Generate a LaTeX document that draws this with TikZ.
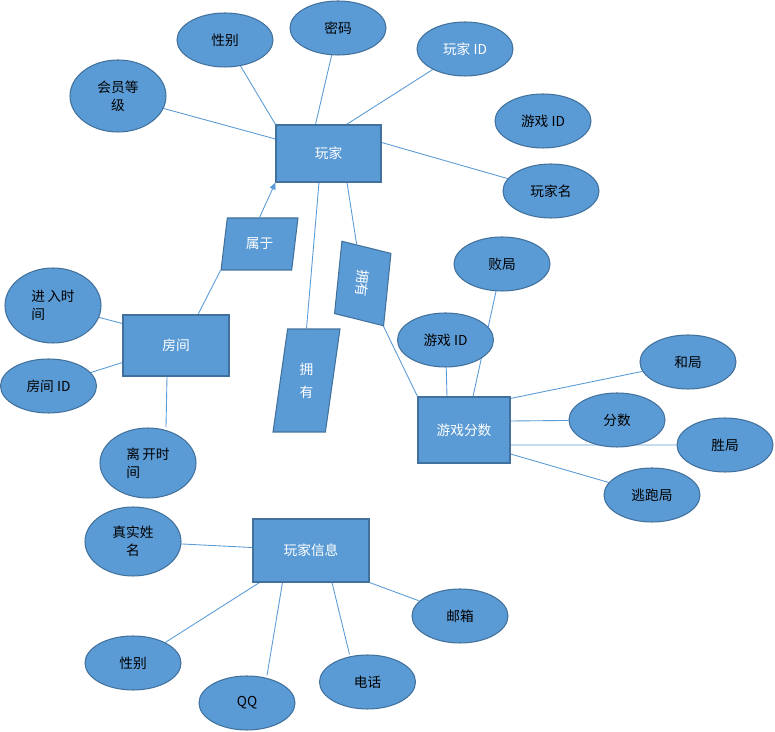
\documentclass[tikz,border=0pt]{standalone}
\usepackage{fontspec}
\setmainfont{Noto Sans CJK SC}
\definecolor{erfill}{HTML}{5B9BD5}
\definecolor{erdraw}{HTML}{41719C}
\definecolor{erline}{HTML}{5B9BD5}
\usetikzlibrary{
    arrows.meta,
    shapes.geometric,
    backgrounds
}
\tikzstyle{attr} = [
    ellipse,
    draw=erdraw,
    fill=erfill,
    line width=0.6pt,
    minimum width=1.92cm,
    minimum height=1.08cm,
    inner sep=0pt,
    align=center,
    text=black,
    font=\fontsize{7.8}{10}\selectfont
]
\tikzstyle{entity} = [
    rectangle,
    draw=erdraw,
    fill=erfill,
    line width=0.6pt,
    inner sep=0pt,
    text=white,
    font=\fontsize{7.8}{10}\selectfont
]
\tikzstyle{relation} = [
    trapezium,
    trapezium stretches=true,
    draw=erdraw,
    fill=erfill,
    line width=0.6pt,
    inner sep=0pt,
    text=white,
    font=\fontsize{7.8}{10}\selectfont
]
\tikzstyle{link} = [
    draw=erline,
    line width=0.5pt
]
\tikzstyle{arrow} = [
    link,
    -{Triangle[length=4pt,width=3.5pt]}
]

\begin{document}
\begin{tikzpicture}[x=0.02cm, y=-0.02cm]
    \useasboundingbox (0,0) rectangle (775,732);

    % Entities
    \node[entity, minimum width=2.1cm, minimum height=1.14cm] (wj) at (328.5,153.5) {玩家};
    \node[entity, minimum width=2.12cm, minimum height=1.22cm] (fj) at (176,345.5) {房间};
    \node[entity, minimum width=1.84cm, minimum height=1.32cm] (yxfs) at (464,430) {游戏分数};
    \node[entity, minimum width=2.32cm, minimum height=1.26cm] (wjxx) at (311,550.5) {玩家信息};

    % Relations
    \node[relation, trapezium left angle=77.5, trapezium right angle=102.5,
        minimum width=1.54cm, minimum height=1.04cm] (sy) at (259.5,244) {属于};
    \node[relation, trapezium left angle=81.5, trapezium right angle=98.5,
        minimum width=1.34cm, minimum height=2.06cm, align=center,
        font=\fontsize{7.8}{13}\selectfont] (yy1) at (306.5,380.5) {拥\\有};
    \node[relation, trapezium left angle=76.6, trapezium right angle=103.4,
        minimum width=1.6cm, minimum height=1.0cm, rotate=-95.8] (yy2) at (362.75,283.5) {拥有};

    % Attributes of player
    \node[attr, minimum height=1.44cm] (hydj) at (118,96) {会员等\\级};
    \node[attr] (xb1) at (225,40) {性别};
    \node[attr] (mm) at (338,28) {密码};
    \node[attr, text=white] (wjid) at (465,49) {玩家 ID};
    \node[attr] (yxid1) at (543,121) {游戏 ID};
    \node[attr] (wjm) at (551,191) {玩家名};

    % Attributes of room
    \node[attr, minimum height=1.5cm, align=left] (jrsj) at (53,305.5) {进\,入时\\间};
    \node[attr] (fjid) at (48.5,386) {房间 ID};
    \node[attr, minimum height=1.4cm, align=left] (lksj) at (148,463) {离\,开时\\间};

    % Attributes of score
    \node[attr] (bj) at (502,264) {败局};
    \node[attr] (yxid2) at (445.5,340) {游戏 ID};
    \node[attr] (hj) at (688,362) {和局};
    \node[attr] (fs) at (617,420) {分数};
    \node[attr] (sj) at (725,445) {胜局};
    \node[attr] (tpj) at (652,495) {逃跑局};

    % Attributes of player info
    \node[attr, minimum height=1.38cm] (zsxm) at (133,541.5) {真实姓\\名};
    \node[attr] (xb2) at (133,663) {性别};
    \node[attr] (qq) at (247,703) {QQ};
    \node[attr] (dh) at (367.5,682) {电话};
    \node[attr] (yx) at (460,616) {邮箱};

    % Connectors
    \begin{scope}[on background layer]
    \draw[link] (hydj) -- (wj);
    \draw[link] (xb1) -- (wj.north west);
    \draw[link] (mm) -- ([xshift=-0.26cm]wj.north);
    \draw[link] (wjid) -- ([xshift=0.36cm]wj.north);
    \draw[link] ([yshift=-0.36cm]wj.north east) -- (wjm);

    \draw[link] ([xshift=0.44cm]fj.north) -- (sy.bottom left corner);
    \draw[arrow] (sy.north) -- (wj.south west);
    \draw[link] ([xshift=-0.19cm]wj.south) -- (yy1.north);
    \draw[link] ([xshift=0.37cm]wj.south) -- (yy2);
    \draw[link] (yy2) -- (yxfs.north west);

    \draw[link] (jrsj) -- ([yshift=0.44cm]fj.west);
    \draw[link] (fjid) -- ([yshift=-0.34cm]fj.west);
    \draw[link] ([xshift=0.36cm]lksj.north) -- ([xshift=-0.18cm]fj.south);

    \draw[link] (yxid2) -- ([xshift=-0.34cm]yxfs.north);
    \draw[link] (bj) -- ([xshift=0.18cm]yxfs.north);
    \draw[link] ([yshift=-0.04cm]yxfs.north east) -- (hj);
    \draw[link] ([yshift=0.18cm]yxfs.east) -- (fs);
    \draw[link] ([yshift=-0.3cm]yxfs.east) -- (sj);
    \draw[link] ([yshift=-0.48cm]yxfs.east) -- (tpj);

    \draw[link] (zsxm) -- (wjxx);
    \draw[link] (xb2) -- ([xshift=0.14cm]wjxx.south west);
    \draw[link] ([xshift=0.4cm]qq.north) -- ([xshift=0.6cm]wjxx.south west);
    \draw[link] ([xshift=-0.36cm]dh.north) -- ([xshift=0.42cm]wjxx.south);
    \draw[link] (wjxx.south east) -- (yx);
    \end{scope}
\end{tikzpicture}
\end{document}
